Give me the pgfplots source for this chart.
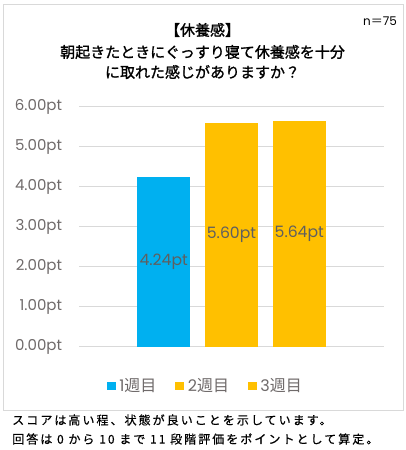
\documentclass[border=0pt]{standalone}
\usepackage{pgfplots}
\pgfplotsset{compat=1.18}
\usepackage{fontspec}
\setmainfont{Poppins}
\newfontfamily\jp{Noto Sans CJK JP}
\newfontfamily\jpt[FakeBold=1.2]{Noto Sans CJK JP}
\newfontfamily\jpnote[LetterSpace=17,FakeBold=0.6]{Noto Sans CJK JP}

\definecolor{wk1}{HTML}{00B0F0}
\definecolor{wk2}{HTML}{FFC000}
\definecolor{gridc}{HTML}{D9D9D9}
\definecolor{tickc}{HTML}{6F6A6A}
\definecolor{valc}{HTML}{5F5F5F}

\begin{document}
\begin{tikzpicture}
\useasboundingbox (0,0) rectangle (304.5pt,337.5pt);
% outer frame
\draw[gridc, line width=0.75pt] (2.25pt,29.25pt) rectangle (302.25pt,333.75pt);

\begin{axis}[
    at={(59.25pt,77.5pt)}, anchor=south west,
    scale only axis,
    width=228.75pt, height=180pt,
    xmin=-1.25, xmax=3.25,
    ymin=0, ymax=6,
    ytick={0,1,2,3,4,5,6},
    xtick=\empty,
    axis line style={draw=none},
    major tick length=0pt,
    ymajorgrids=true,
    grid style={gridc, line width=0.75pt},
    /pgf/number format/assume math mode=true,
    yticklabel={\pgfmathprintnumber[fixed,fixed zerofill,precision=2]{\tick}pt},
    yticklabel style={font=\fontsize{11.25}{13}\selectfont, text=tickc, inner sep=0pt, xshift=-12.5pt},
    ybar, bar width=39.75pt, bar shift=0pt,
    legend columns=3,
    legend style={at={(0.415,-0.162)}, anchor=center, draw=none,
        font=\fontsize{12}{14}\selectfont, text=tickc,
        /tikz/every even column/.append style={column sep=12pt}},
    legend image code/.code={\fill[#1] (0pt,-3pt) rectangle (7pt,3pt); \path (7.5pt,0pt);},
]
\addplot[fill=wk1, draw=none] coordinates {(0,4.24)};
\addlegendentry{1{\jp 週目}}
\addplot[fill=wk2, draw=none] coordinates {(1,5.60)};
\addlegendentry{2{\jp 週目}}
\addplot[fill=wk2, draw=none] coordinates {(2,5.64)};
\addlegendentry{3{\jp 週目}}

% value labels, at half the bar height
\addplot[forget plot, draw=none, mark=none,
    nodes near coords, point meta=explicit symbolic,
    every node near coord/.append style={anchor=center, text=valc,
        font=\fontsize{11.75}{13}\selectfont}]
    coordinates {(0,2.12) [4.24pt] (1,2.80) [5.60pt] (2,2.82) [5.64pt]};
\end{axis}

% title
\node[font=\jpt\fontsize{11.25}{13}\selectfont] at (151.9pt,315pt) {【休養感】};
\node[font=\jpt\fontsize{11.25}{13}\selectfont] at (151.9pt,298.5pt) {朝起きたときにぐっすり寝て休養感を十分};
\node[font=\jpt\fontsize{11.25}{13}\selectfont] at (151.9pt,283.5pt) {に取れた感じがありますか？};
\node[font=\fontsize{9}{10}\selectfont] at (285pt,321.75pt) {n{\jp ＝}75};

% notes
\node[anchor=west, inner sep=0pt, font=\jpnote\fontsize{9}{11}\selectfont] at (9pt,22.5pt) {スコアは高い程、状態が良いことを示しています。};
\node[anchor=west, inner sep=0pt, font=\jpnote\fontsize{9}{11}\selectfont] at (9pt,8.25pt) {回答は 0 から 10 まで 11 段階評価をポイントとして算定。};
\end{tikzpicture}
\end{document}
